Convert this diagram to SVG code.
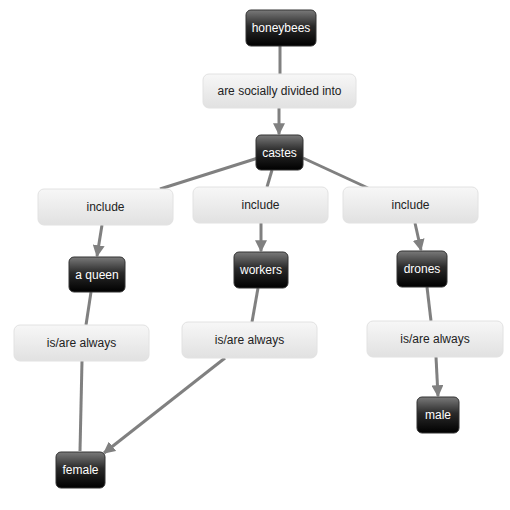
<svg xmlns="http://www.w3.org/2000/svg" width="510" height="510" viewBox="0 0 510 510">
<defs>
<linearGradient id="dark" x1="0" y1="0" x2="0" y2="1">
<stop offset="0" stop-color="#7a7a7a"/>
<stop offset="0.45" stop-color="#2a2a2a"/>
<stop offset="1" stop-color="#000"/>
</linearGradient>
<linearGradient id="light" x1="0" y1="0" x2="0" y2="1">
<stop offset="0" stop-color="#f7f7f7"/>
<stop offset="1" stop-color="#e1e1e1"/>
</linearGradient>
<marker id="arr" viewBox="0 0 10 10" refX="9" refY="5" markerWidth="4" markerHeight="4" orient="auto" markerUnits="strokeWidth">
<path d="M0,0 L10,5 L0,10 z" fill="#808080"/>
</marker>
</defs>
<style>
.c{stroke:#808080;stroke-width:3;fill:none}
.a{marker-end:url(#arr)}
.d{fill:url(#dark);stroke:#333;stroke-width:1}
.l{fill:url(#light);stroke:#e2e2e2;stroke-width:1}
.dt{fill:#fff;font-family:"Liberation Sans",Arial,sans-serif;font-size:12px;text-anchor:middle}
.lt{fill:#222;font-family:"Liberation Sans",Arial,sans-serif;font-size:12px;text-anchor:middle}
</style>
<rect width="510" height="510" fill="#fff"/>
<g id="connectors">
<path class="c" d="M280,46 L280,74"/>
<path class="c a" d="M279,108 L279,134"/>
<path class="c" d="M258,158 L160,189"/>
<path class="c" d="M272,170 L267,187"/>
<path class="c" d="M303,158 L368,188"/>
<path class="c a" d="M102,225 L97,256"/>
<path class="c a" d="M261,223 L261,251"/>
<path class="c a" d="M415,223 L421,250"/>
<path class="c" d="M91,292 L86,325"/>
<path class="c" d="M82,361 L80,451"/>
<path class="c" d="M258,288 L252,322"/>
<path class="c a" d="M225,358 L104,453"/>
<path class="c" d="M427,287 L431,321"/>
<path class="c a" d="M436,357 L438,396"/>
</g>
<g id="honeybees"><rect class="d" x="246" y="10" width="70" height="36" rx="5"/><text class="dt" x="281" y="32">honeybees</text></g>
<g id="link-divided"><rect class="l" x="203" y="74" width="153" height="34" rx="6"/><text class="lt" x="279.5" y="95">are socially divided into</text></g>
<g id="castes"><rect class="d" x="256" y="135" width="47" height="35" rx="5"/><text class="dt" x="279.5" y="157">castes</text></g>
<g id="link-include-1"><rect class="l" x="38" y="189" width="135" height="36" rx="6"/><text class="lt" x="105.5" y="211">include</text></g>
<g id="link-include-2"><rect class="l" x="193" y="187" width="135" height="36" rx="6"/><text class="lt" x="260.5" y="209">include</text></g>
<g id="link-include-3"><rect class="l" x="343" y="187" width="135" height="36" rx="6"/><text class="lt" x="410.5" y="209">include</text></g>
<g id="a-queen"><rect class="d" x="69" y="257" width="56" height="35" rx="5"/><text class="dt" x="97" y="279">a queen</text></g>
<g id="workers"><rect class="d" x="234" y="252" width="54" height="36" rx="5"/><text class="dt" x="261" y="274">workers</text></g>
<g id="drones"><rect class="d" x="397" y="251" width="50" height="36" rx="5"/><text class="dt" x="422" y="273">drones</text></g>
<g id="link-always-1"><rect class="l" x="14" y="325" width="135" height="36" rx="6"/><text class="lt" x="81.5" y="347">is/are always</text></g>
<g id="link-always-2"><rect class="l" x="182" y="322" width="135" height="36" rx="6"/><text class="lt" x="249.5" y="344">is/are always</text></g>
<g id="link-always-3"><rect class="l" x="367" y="321" width="136" height="36" rx="6"/><text class="lt" x="435" y="343">is/are always</text></g>
<g id="female"><rect class="d" x="56" y="452" width="49" height="36" rx="5"/><text class="dt" x="80.5" y="474">female</text></g>
<g id="male"><rect class="d" x="417" y="397" width="42" height="36" rx="5"/><text class="dt" x="438" y="419">male</text></g>
</svg>
